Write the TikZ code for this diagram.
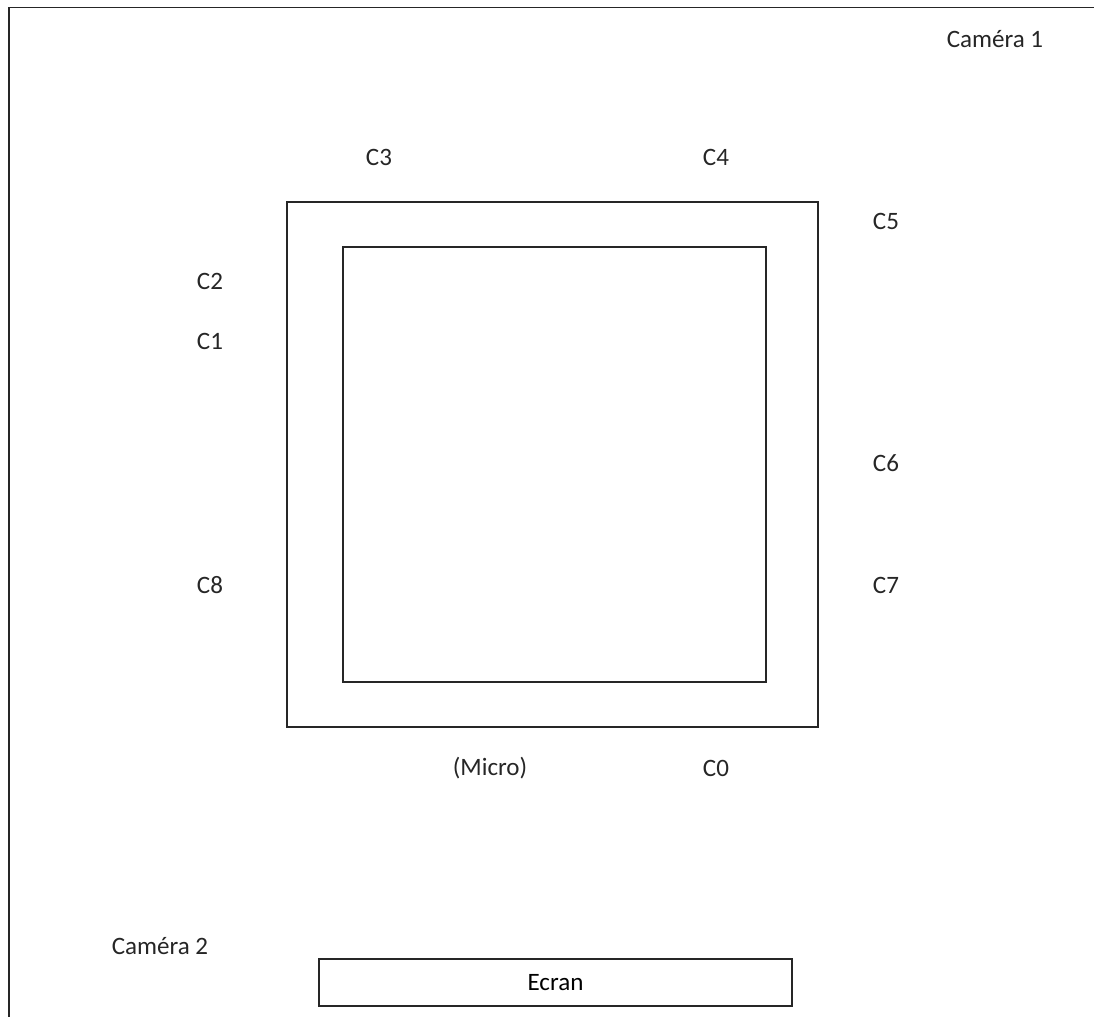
\documentclass[tikz,border=0pt]{standalone}
\usepackage{fontspec}
\setmainfont{Carlito}
\usetikzlibrary{positioning}

\begin{document}
\begin{tikzpicture}[
  x=0.025cm, y=-0.025cm,
  font=\fontsize{17.8}{21}\selectfont,
  % walls and boxes
  wall/.style={draw=black!85, line width=1.4pt},
  cadre/.style={wall, minimum width=13.275cm, minimum height=13.125cm, inner sep=0pt},
  scene/.style={wall, minimum width=10.575cm, minimum height=10.875cm, inner sep=0pt},
  ecranbox/.style={wall, minimum width=11.825cm, minimum height=1.175cm, inner sep=0pt},
  % camera labels
  cam/.style={text=black!85, inner sep=1pt},
]

\useasboundingbox (0,0) rectangle (1094,1017);

% ── Room (cut off on the right and bottom) ─────────────────────────────
\begin{scope}
  \clip (0,0) rectangle (1094,1017);
  \draw[wall] (9,1040) -- (9,7.5) -- (1120,7.5);
\end{scope}

% ── Frames ─────────────────────────────────────────────────────────────
\node[cadre] (cadre) at (552.5,464.5) {};
\node[scene] (scene) at (554.5,464.5) {};
\node[ecranbox] (ecran) at (555.5,982.5) {Ecran};

% ── Cameras ────────────────────────────────────────────────────────────
\node[cam] (cam1) at (995,39) {Caméra 1};
\node[cam] (cam2) at (160,946) {Caméra 2};

\node[cam] (c3) at (379,157) {C3};
\node[cam] (c4) at (716,157) {C4};
\node[cam] (c5) at (886,221) {C5};
\node[cam] (c2) at (210,281) {C2};
\node[cam] (c1) at (210,341) {C1};
\node[cam] (c6) at (886,463) {C6};
\node[cam] (c8) at (210,585) {C8};
\node[cam] (c7) at (886,585) {C7};
\node[cam] (micro) at (490,768) {(Micro)};
\node[cam] (c0) at (716,768) {C0};

\end{tikzpicture}
\end{document}
